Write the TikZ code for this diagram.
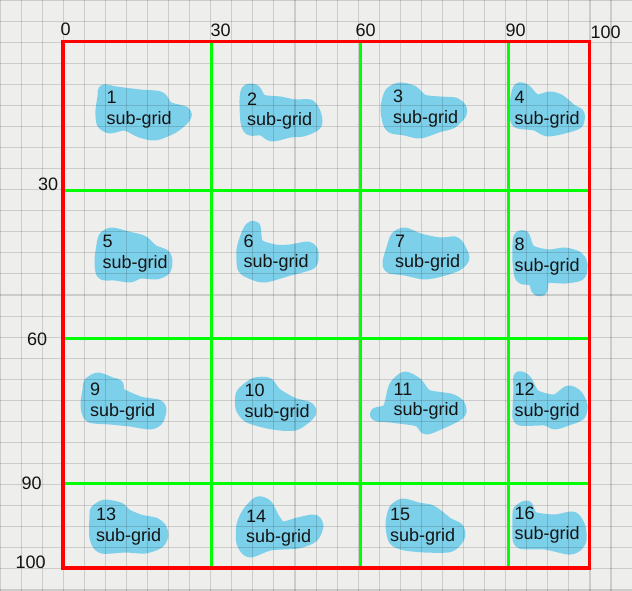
\documentclass[tikz,border=0pt]{standalone}
\usepackage{fontspec}
\setmainfont{Liberation Sans}
\definecolor{bgc}{RGB}{238,238,236}
\definecolor{blobc}{RGB}{125,208,234}
\definecolor{txtc}{RGB}{20,20,20}
\definecolor{redc}{RGB}{255,0,0}
\definecolor{greenc}{RGB}{0,255,0}
\begin{document}
\begin{tikzpicture}[x=1pt,y=-1pt,
  blob/.style={fill=blobc,draw=blobc,line width=11pt,line join=round},
  gridline/.style={draw=black,draw opacity=0.14,line width=1.1pt},
  frameline/.style={draw=redc,line width=3.2pt},
  divline/.style={draw=greenc,line width=3pt},
  lbl/.style={anchor=base west,align=left,inner sep=0pt,font=\fontsize{18}{20.5}\selectfont,text=txtc},
  axlbl/.style={anchor=base west,inner sep=0pt,font=\fontsize{18}{20.5}\selectfont,text=txtc}]
\useasboundingbox (0,0) rectangle (632,591);
\fill[bgc] (0,0) rectangle (632,591);
% blobs
\filldraw[blob] plot[smooth cycle,tension=0.45] coordinates {(104,90)(116,92)(140,95)(160,97)(168,107)(185,112)(185,118)(173,128)(155,135)(140,132)(125,125)(110,128)(102,123)(101,110)(103,97)};
\filldraw[blob] plot[smooth cycle,tension=0.45] coordinates {(247,90)(255,90)(262,100)(280,102)(295,105)(310,105)(316,115)(316,125)(303,131)(290,132)(272,136)(262,130)(250,130)(246,122)(245,100)};
\filldraw[blob] plot[smooth cycle,tension=0.45] coordinates {(390,93)(400,88)(413,91)(423,100)(440,102)(455,103)(461,108)(461,114)(452,123)(438,127)(420,133)(405,130)(392,128)(388,122)(386,108)};
\filldraw[blob] plot[smooth cycle,tension=0.45] coordinates {(519,88)(526,90)(536,100)(550,97)(560,100)(572,110)(579,114)(578,123)(568,127)(548,131)(535,125)(518,123)(515,115)(516,97)};
\filldraw[blob] plot[smooth cycle,tension=0.45] coordinates {(104,237)(112,233)(128,237)(143,241)(153,250)(165,255)(167,262)(165,270)(156,274)(140,273)(130,277)(115,275)(102,274)(100,260)(102,245)};
\filldraw[blob] plot[smooth cycle,tension=0.45] coordinates {(250,228)(255,227)(258,244)(275,250)(290,250)(308,247)(313,252)(312,263)(302,267)(290,270)(265,277)(252,274)(243,268)(242,250)(246,236)};
\filldraw[blob] plot[smooth cycle,tension=0.45] coordinates {(396,237)(405,233)(420,239)(440,243)(455,242)(460,248)(464,258)(458,265)(445,270)(425,274)(405,270)(390,268)(388,262)(392,248)};
\filldraw[blob] plot[smooth cycle,tension=0.45] coordinates {(519,237)(524,236)(530,250)(548,255)(565,253)(578,257)(582,264)(580,275)(565,278)(545,278)(542,290)(537,290)(533,280)(521,278)(518,262)(518,245)};
\filldraw[blob] plot[smooth cycle,tension=0.45] coordinates {(89,383)(98,378)(112,383)(118,385)(120,393)(140,402)(158,405)(161,410)(158,420)(150,424)(130,421)(110,419)(90,417)(86,405)(88,390)};
\filldraw[blob] plot[smooth cycle,tension=0.45] coordinates {(245,390)(255,383)(268,383)(276,393)(293,403)(308,407)(311,412)(306,418)(295,425)(280,425)(263,422)(248,417)(241,408)(241,395)};
\filldraw[blob] plot[smooth cycle,tension=0.45] coordinates {(396,384)(405,377)(417,383)(427,395)(450,399)(459,404)(461,412)(455,417)(440,424)(426,429)(418,421)(390,417)(377,416)(376,413)(388,409)(393,390)};
\filldraw[blob] plot[smooth cycle,tension=0.45] coordinates {(519,377)(526,380)(535,395)(555,400)(568,391)(577,395)(582,405)(580,415)(568,420)(555,424)(545,420)(520,420)(518,410)(519,390)};
\filldraw[blob] plot[smooth cycle,tension=0.45] coordinates {(96,510)(105,505)(120,508)(126,514)(140,520)(155,523)(161,528)(163,535)(159,543)(145,548)(125,547)(102,548)(95,538)(95,515)};
\filldraw[blob] plot[smooth cycle,tension=0.45] coordinates {(248,512)(258,502)(267,505)(274,518)(282,527)(298,523)(314,520)(318,526)(313,537)(298,543)(270,545)(250,552)(242,543)(242,525)};
\filldraw[blob] plot[smooth cycle,tension=0.45] coordinates {(394,510)(403,504)(418,508)(430,510)(438,515)(448,523)(458,528)(460,535)(456,542)(448,547)(425,547)(405,545)(394,540)(391,525)};
\filldraw[blob] plot[smooth cycle,tension=0.45] coordinates {(519,510)(527,506)(533,517)(555,520)(573,517)(580,527)(581,540)(576,547)(568,549)(545,544)(520,543)(518,530)(518,514)};
% background grid
\foreach \i in {0,...,30} \draw[gridline] (\i*21.07,0) -- (\i*21.07,591);
\foreach \j in {0,...,28} \draw[gridline] (0,\j*21.07) -- (632,\j*21.07);
% dividers
\draw[divline] (211.5,41.7) -- (211.5,568);
\draw[divline] (360,41.7) -- (360,568);
\draw[divline] (508.3,41.7) -- (508.3,568);
\draw[divline] (63,190) -- (589.5,190);
\draw[divline] (63,338.7) -- (589.5,338.7);
\draw[divline] (63,483.5) -- (589.5,483.5);
\draw[frameline] (63,41.7) rectangle (589.5,568);
% axis labels
\node[axlbl] (t0) at (60.5,36) {0};
\node[axlbl] (t30) at (210.5,36.5) {30};
\node[axlbl] (t60) at (355.5,36.7) {60};
\node[axlbl] (t90) at (505.5,36.7) {90};
\node[axlbl] (t100) at (590.5,38.3) {100};
\node[axlbl] (l30) at (38,190.7) {30};
\node[axlbl] (l60) at (27,345) {60};
\node[axlbl] (l90) at (21.5,489) {90};
\node[axlbl] (l100) at (15.5,568) {100};
% sub-grid labels (anchor = baseline of the second line)
\node[lbl] (s1) at (106.5,124.5) {1\\sub-grid};
\node[lbl] (s2) at (247,125.5) {2\\sub-grid};
\node[lbl] (s3) at (393,123.2) {3\\sub-grid};
\node[lbl] (s4) at (514.5,124.5) {4\\sub-grid};
\node[lbl] (s5) at (102.5,268.2) {5\\sub-grid};
\node[lbl] (s6) at (243.5,267.8) {6\\sub-grid};
\node[lbl] (s7) at (395,267.8) {7\\sub-grid};
\node[lbl] (s8) at (514.5,271.2) {8\\sub-grid};
\node[lbl] (s9) at (90,416.2) {9\\sub-grid};
\node[lbl] (s10) at (244.5,417.2) {10\\sub-grid};
\node[lbl] (s11) at (393.5,415.5) {11\\sub-grid};
\node[lbl] (s12) at (514.5,416.2) {12\\sub-grid};
\node[lbl] (s13) at (96,541.2) {13\\sub-grid};
\node[lbl] (s14) at (246,542.8) {14\\sub-grid};
\node[lbl] (s15) at (390,541.2) {15\\sub-grid};
\node[lbl] (s16) at (514.5,539.8) {16\\sub-grid};
\end{tikzpicture}
\end{document}
